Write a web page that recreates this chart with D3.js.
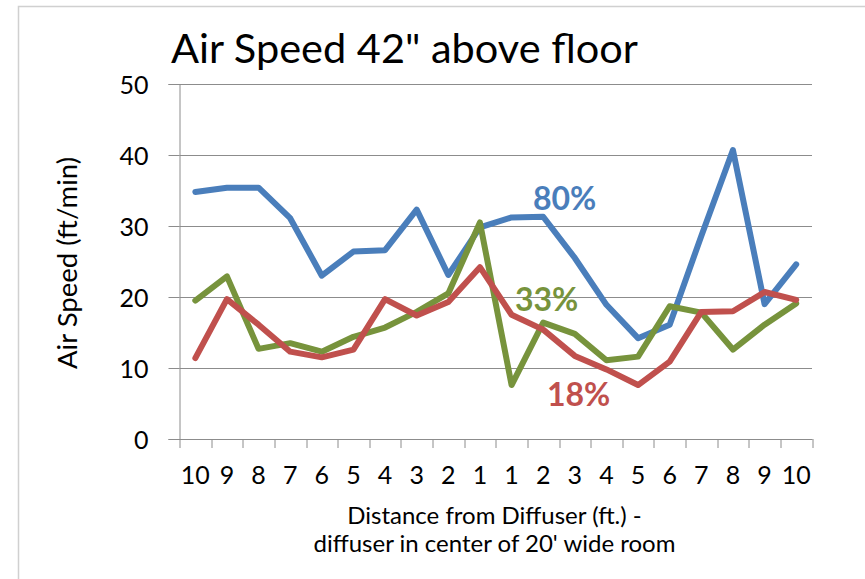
<!DOCTYPE html>
<html>
<head>
<meta charset="utf-8">
<script src="https://cdn.jsdelivr.net/npm/d3@7"></script>
<style>
  body { margin: 0; background: #fff; }
  text { font-family: Lato, "Open Sans", sans-serif; fill: #000; }
</style>
</head>
<body>
<div id="chart"></div>
<script>
// distance labels, left wall -> diffuser -> right wall
const distances = ["10","9","8","7","6","5","4","3","2","1","1","2","3","4","5","6","7","8","9","10"];
const speed80 = [34.8, 35.4, 35.4, 31.1, 23.0, 26.4, 26.6, 32.3, 23.1, 29.8, 31.2, 31.3, 25.5, 18.9, 14.2, 16.1, 28.6, 40.7, 19.0, 24.6];
const speed33 = [19.5, 22.9, 12.7, 13.5, 12.3, 14.4, 15.7, 17.9, 20.5, 30.5, 7.6, 16.4, 14.8, 11.1, 11.6, 18.7, 17.8, 12.6, 16.1, 19.1];
const speed18 = [11.4, 19.7, 16.1, 12.3, 11.5, 12.6, 19.7, 17.4, 19.3, 24.2, 17.5, 15.4, 11.7, 9.8, 7.6, 10.9, 17.9, 18.0, 20.7, 19.6];
const yTicks = [0, 10, 20, 30, 40, 50];

const series = [
  { name: "80%", values: speed80, color: "#4a7ebb", lx: 533, ly: 210 },
  { name: "33%", values: speed33, color: "#77933c", lx: 515, ly: 311 },
  { name: "18%", values: speed18, color: "#c0504d", lx: 547, ly: 406 }
];

const W = 865, H = 579;
const margin = { top: 84, right: 53, bottom: 140, left: 179.5 };
const width = W - margin.left - margin.right;
const height = H - margin.top - margin.bottom;

const svg = d3.select("#chart").append("svg")
  .attr("width", W)
  .attr("height", H);

// outer frame (only top and left edges show)
svg.append("path")
  .attr("d", `M18.5,${H} V6.5 H${W}`)
  .attr("fill", "none")
  .attr("stroke", "#d0d0d0")
  .attr("stroke-width", 1.5);

const g = svg.append("g")
  .attr("transform", `translate(${margin.left},${margin.top})`);

const x = d3.scaleBand()
  .domain(d3.range(distances.length))
  .range([0, width]);

const y = d3.scaleLinear()
  .domain([0, 50])
  .range([height, 0]);

// gridlines
g.selectAll(".grid")
  .data(yTicks.slice(1))
  .enter()
  .append("line")
  .attr("x1", 0)
  .attr("x2", width)
  .attr("y1", d => Math.round(y(d)) + 0.5)
  .attr("y2", d => Math.round(y(d)) + 0.5)
  .attr("stroke", "#8c8c8c")
  .attr("stroke-width", 1);

// y axis
const yAxis = g.append("g")
  .call(d3.axisLeft(y).tickValues(yTicks).tickSize(11).tickPadding(20));
yAxis.selectAll("text").style("font-size", "25px").attr("dy", "0.36em");

// x axis
const xAxis = g.append("g")
  .attr("transform", `translate(0,${height})`)
  .call(d3.axisBottom(x).tickFormat(i => distances[i]).tickSize(0).tickPadding(27));
xAxis.selectAll("text").style("font-size", "25px");

// x tick marks sit on the band edges
g.append("g")
  .selectAll("line")
  .data(d3.range(distances.length + 1))
  .enter()
  .append("line")
  .attr("x1", i => Math.round(i * x.step()) + 0.5)
  .attr("x2", i => Math.round(i * x.step()) + 0.5)
  .attr("y1", height)
  .attr("y2", height + 9)
  .attr("stroke", "#8c8c8c");

g.selectAll(".domain, .tick line").attr("stroke", "#8c8c8c");

// lines
const line = d3.line()
  .x((d, i) => x(i) + x.bandwidth() / 2)
  .y(d => y(d));

series.forEach(s => {
  g.append("path")
    .datum(s.values)
    .attr("d", line)
    .attr("fill", "none")
    .attr("stroke", s.color)
    .attr("stroke-width", 6)
    .attr("stroke-linejoin", "round")
    .attr("stroke-linecap", "round");
});

// series labels
series.forEach(s => {
  svg.append("text")
    .attr("x", s.lx)
    .attr("y", s.ly)
    .style("font-size", "32px")
    .style("font-weight", "bold")
    .style("fill", s.color)
    .text(s.name);
});

// title
svg.append("text")
  .attr("x", 171)
  .attr("y", 63)
  .style("font-size", "41.5px")
  .text("Air Speed 42\" above floor");

// axis titles
svg.append("text")
  .attr("transform", "rotate(-90)")
  .attr("x", -263)
  .attr("y", 77)
  .attr("text-anchor", "middle")
  .style("font-size", "27.5px")
  .text("Air Speed (ft/min)");

svg.append("text")
  .attr("x", 494.5)
  .attr("y", 524)
  .attr("text-anchor", "middle")
  .style("font-size", "24px")
  .text("Distance from Diffuser (ft.) -");

svg.append("text")
  .attr("x", 494.5)
  .attr("y", 552)
  .attr("text-anchor", "middle")
  .style("font-size", "24px")
  .text("diffuser in center of 20' wide room");
</script>
</body>
</html>
